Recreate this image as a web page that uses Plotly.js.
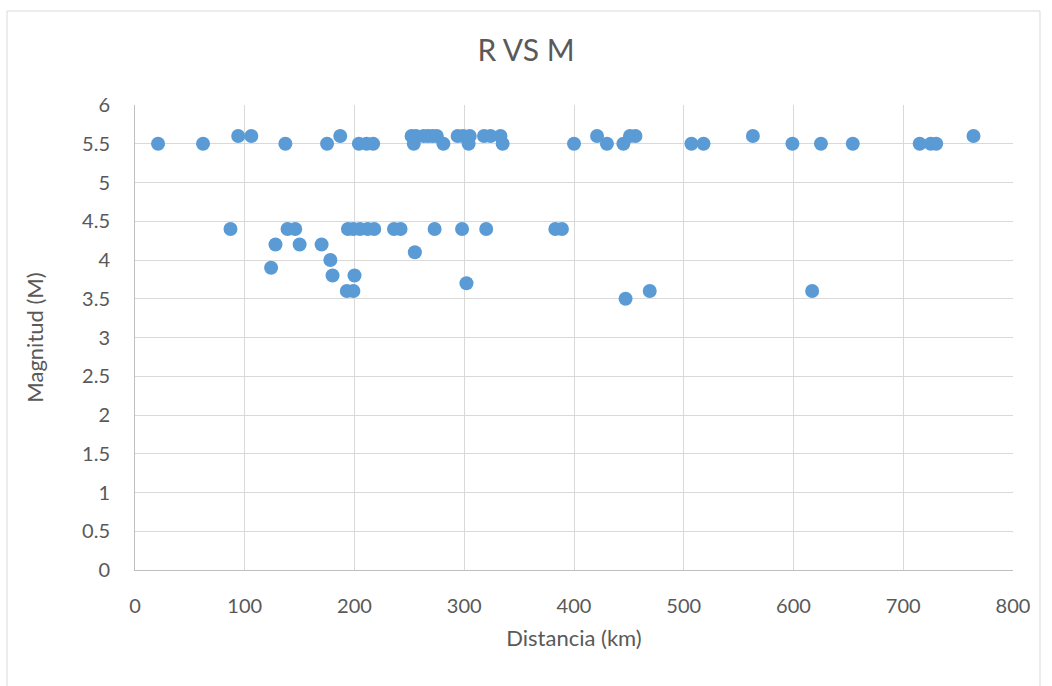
<!DOCTYPE html>
<html>
<head>
<meta charset="utf-8">
<script src="https://cdn.plot.ly/plotly-3.0.1.min.js"></script>
<style>html,body{margin:0;padding:0;background:#fff;}#chart{width:1052px;height:686px;}</style>
</head>
<body>
<div id="chart"></div>
<script>
// Distance (km) and magnitude values
const distancia = [
  21, 62, 137, 175, 204, 211, 217, 254, 281, 304, 335, 400, 430, 445, 507, 518, 599, 625, 654, 715, 725, 730,
  94, 106, 187, 252, 256, 263, 267, 271, 275, 294, 299, 305, 318, 324, 333, 421, 451, 456, 563, 764,
  87, 139, 146, 194, 199, 205, 212, 218, 236, 242, 273, 298, 320, 383, 389,
  128, 150, 170,
  255,
  178,
  124,
  180, 200,
  302,
  193, 199, 469, 617,
  447
];
const magnitud = [
  5.5, 5.5, 5.5, 5.5, 5.5, 5.5, 5.5, 5.5, 5.5, 5.5, 5.5, 5.5, 5.5, 5.5, 5.5, 5.5, 5.5, 5.5, 5.5, 5.5, 5.5, 5.5,
  5.6, 5.6, 5.6, 5.6, 5.6, 5.6, 5.6, 5.6, 5.6, 5.6, 5.6, 5.6, 5.6, 5.6, 5.6, 5.6, 5.6, 5.6, 5.6, 5.6,
  4.4, 4.4, 4.4, 4.4, 4.4, 4.4, 4.4, 4.4, 4.4, 4.4, 4.4, 4.4, 4.4, 4.4, 4.4,
  4.2, 4.2, 4.2,
  4.1,
  4.0,
  3.9,
  3.8, 3.8,
  3.7,
  3.6, 3.6, 3.6, 3.6,
  3.5
];
const xTicks = [0, 100, 200, 300, 400, 500, 600, 700, 800];
const yTicks = [0, 0.5, 1, 1.5, 2, 2.5, 3, 3.5, 4, 4.5, 5, 5.5, 6];

const font = 'Lato, "Open Sans", "Noto Sans", sans-serif';
const trace = {
  x: distancia, y: magnitud, type: 'scatter', mode: 'markers',
  marker: {color: '#5B9BD5', size: 14, line: {width: 0}},
  hoverinfo: 'x+y'
};
const W = 878, H = 465;
const layout = {
  width: 1052, height: 686,
  margin: {l: 135, r: 39, t: 105, b: 116},
  paper_bgcolor: '#ffffff', plot_bgcolor: '#ffffff',
  showlegend: false,
  title: {text: 'R VS M', font: {family: font, size: 30, color: '#595959'}, x: 0.5, xanchor: 'center', y: 1 - 50/686, yanchor: 'middle'},
  xaxis: {
    range: [0, 800], tickvals: xTicks, ticktext: xTicks.map(String),
    showgrid: true, gridcolor: '#D9D9D9', gridwidth: 1,
    zeroline: false, showline: true, linecolor: '#BFBFBF', linewidth: 1,
    ticks: '', ticklabelstandoff: 18, tickfont: {family: font, size: 20, color: '#595959'},
    title: {text: 'Distancia (km)', font: {family: font, size: 22, color: '#595959'}, standoff: 14}
  },
  yaxis: {
    range: [0, 6], tickvals: yTicks, ticktext: yTicks.map(String),
    showgrid: true, gridcolor: '#D9D9D9', gridwidth: 1,
    zeroline: false, showline: true, linecolor: '#BFBFBF', linewidth: 1,
    ticks: '', ticklabelstandoff: 20, tickfont: {family: font, size: 20, color: '#595959'},
    title: {text: 'Magnitud (M)', font: {family: font, size: 22, color: '#595959'}, standoff: 32}
  },
  shapes: [{
    type: 'rect', xref: 'paper', yref: 'paper',
    x0: (7 - 135) / W, x1: (1040 - 135) / W,
    y0: (570 - 700) / H, y1: (570 - 11) / H,
    line: {color: '#D9D9D9', width: 1}, fillcolor: 'rgba(0,0,0,0)', layer: 'below'
  }]
};
Plotly.newPlot('chart', [trace], layout, {displayModeBar: false, staticPlot: true});
</script>
</body>
</html>
